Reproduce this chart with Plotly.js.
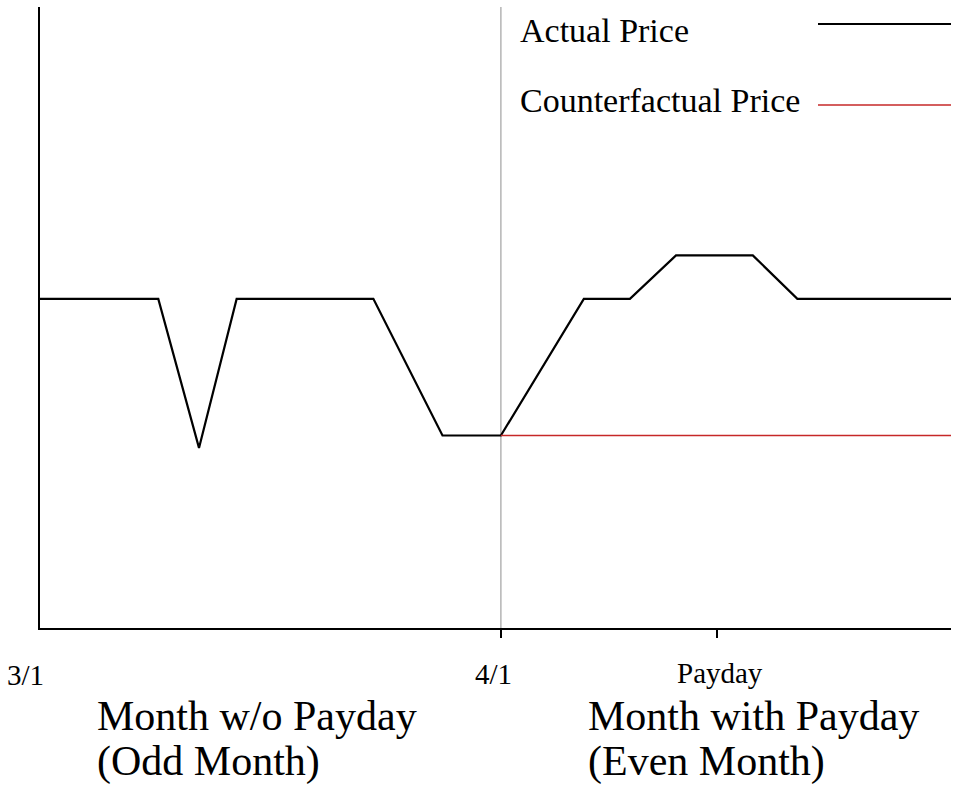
<!DOCTYPE html>
<html>
<head>
<meta charset="utf-8">
<script src="https://cdn.plot.ly/plotly-3.0.1.min.js"></script>
<style>html,body{margin:0;padding:0;background:#fff;}#chart{width:953px;height:787px;}</style>
</head>
<body>
<div id="chart"></div>
<script>
// Days since 3/1 (4/1 = day 30) and price level
const actualDays  = [0, 7.7, 10.35, 12.8, 21.7, 26.2, 30, 35.4, 38.4, 41.4, 46.4, 49.3, 59.3];
const actualPrice = [5.3, 5.3, 2.9, 5.3, 5.3, 3.1, 3.1, 5.3, 5.3, 6.0, 6.0, 5.3, 5.3];
const counterDays  = [30, 59.3];
const counterPrice = [3.1, 3.1];
const tickDays   = [30, 44.1];
const tickLabels = ['4/1', 'Payday'];
const startLabel = '3/1';
const seriesNames = ['Actual Price', 'Counterfactual Price'];
const monthLabels = [['Month w/o Payday', '(Odd Month)'], ['Month with Payday', '(Even Month)']];

const W = 953, H = 787, ML = 40, MR = 2, MT = 7, MB = 159;
const PW = W - ML - MR, PH = H - MT - MB;
const px = x => (x - ML) / PW;
const py = y => (H - MB - y) / PH;
const serif = 'Liberation Serif, Times New Roman, serif';

const traces = [
  {x: actualDays, y: actualPrice, mode: 'lines', name: seriesNames[0],
   line: {color: '#000', width: 2.2}, showlegend: false, hoverinfo: 'skip'},
  {x: counterDays, y: counterPrice, mode: 'lines', name: seriesNames[1],
   line: {color: '#c62828', width: 1.5}, showlegend: false, hoverinfo: 'skip'}
];

const ann = [];
function txt(text, x, y, size, anchor) {
  ann.push({text, xref: 'paper', yref: 'paper', x: px(x), y: py(y), xanchor: anchor,
    yanchor: 'middle', showarrow: false, font: {family: serif, size, color: '#000'}});
}
txt(startLabel, 25, 675, 29, 'center');
txt(tickLabels[0], 493, 674, 29, 'center');
txt(tickLabels[1], 720, 673, 29, 'center');
txt(monthLabels[0][0], 95, 716, 42, 'left');
txt(monthLabels[0][1], 95, 761, 42, 'left');
txt(monthLabels[1][0], 586, 716, 42, 'left');
txt(monthLabels[1][1], 586, 761, 42, 'left');
txt(seriesNames[0], 518, 30, 34, 'left');
txt(seriesNames[1], 518, 100, 34, 'left');

const shapes = [
  {type: 'line', xref: 'x', yref: 'paper', x0: tickDays[0], x1: tickDays[0], y0: 0, y1: 1,
   line: {color: '#b4b4b4', width: 1.5}, layer: 'below'},
  {type: 'line', xref: 'paper', yref: 'paper', x0: px(818), x1: px(951), y0: py(24), y1: py(24),
   line: {color: '#000', width: 2}},
  {type: 'line', xref: 'paper', yref: 'paper', x0: px(818), x1: px(951), y0: py(105), y1: py(105),
   line: {color: '#c62828', width: 1.5}}
];

const layout = {
  width: W, height: H,
  margin: {l: ML, r: MR, t: MT, b: MB, pad: 0},
  paper_bgcolor: '#fff', plot_bgcolor: '#fff',
  showlegend: false,
  xaxis: {range: [0, 59.3], showgrid: false, zeroline: false, showline: true,
    linecolor: '#000', linewidth: 2, ticks: 'outside', ticklen: 8, tickwidth: 2,
    tickcolor: '#000', tickvals: tickDays, ticktext: tickLabels, showticklabels: false,
    fixedrange: true},
  yaxis: {range: [0, 10], showgrid: false, zeroline: false, showline: true,
    linecolor: '#000', linewidth: 2, ticks: '', showticklabels: false, fixedrange: true},
  annotations: ann,
  shapes: shapes
};

Plotly.newPlot('chart', traces, layout, {staticPlot: true, displayModeBar: false});
</script>
</body>
</html>
